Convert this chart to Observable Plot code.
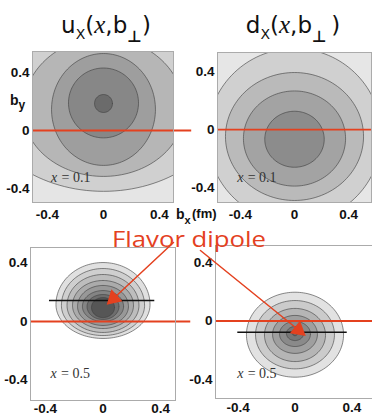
<!DOCTYPE html>
<html><head><meta charset="utf-8">
<script src="https://cdn.jsdelivr.net/npm/d3@7"></script>
<script src="https://cdn.jsdelivr.net/npm/@observablehq/plot@0.6"></script>
<style>
html,body{margin:0;padding:0;background:#fff;}
#fig{position:relative;width:372px;height:415px;overflow:hidden;background:#fff;}
.panel{position:absolute;}
.panel svg{overflow:visible;}
#overlay{position:absolute;left:0;top:0;pointer-events:none;}
</style></head><body><div id="fig"></div>
<script>
// ---------- data ----------
const tickValues = [-0.4, 0, 0.4];
const panelTitles = ["u", "d"];
const momentumLabels = ["x = 0.1", "x = 0.1", "x = 0.5", "x = 0.5"];

// top-left: u, x = 0.1  (contours outer -> inner)
const tlCy  = [0.25, 0.14, 0.145, 0.19, 0.186];
const tlRx  = [0.90, 0.575, 0.371, 0.25, 0.064];
const tlRyT = [0.67, 0.50, 0.386, 0.241, 0.062];
const tlRyB = [0.67, 0.457, 0.386, 0.241, 0.062];
const tlFill = ["#d0d0d0", "#b6b6b6", "#9e9e9e", "#878787", "#6b6b6b"];
const tlBack = "#e5e5e5";

// top-right: d, x = 0.1
const trCy  = [-0.041, -0.048, -0.062, -0.067];
const trRx  = [0.644, 0.511, 0.378, 0.22];
const trRyT = [0.60, 0.441, 0.328, 0.193];
const trRyB = [0.60, 0.441, 0.328, 0.193];
const trFill = ["#d0d0d0", "#bababa", "#a3a3a3", "#8c8c8c"];
const trBack = "#e6e6e6";

// bottom-left: u, x = 0.5
const blCy  = [0.116, 0.110, 0.110, 0.110, 0.103, 0.103, 0.103, 0.096];
const blRx  = [0.327, 0.289, 0.250, 0.212, 0.177, 0.143, 0.111, 0.080];
const blRyT = [0.288, 0.253, 0.212, 0.171, 0.144, 0.109, 0.082, 0.068];
const blRyB = [0.232, 0.206, 0.185, 0.158, 0.130, 0.103, 0.089, 0.069];
const blFill = ["#e0e0e0", "#cfcfcf", "#bdbdbd", "#ababab", "#989898", "#848484", "#6e6e6e", "#565656"];

// bottom-right: d, x = 0.5
const brCy  = [-0.094, -0.094, -0.096, -0.092, -0.089, -0.086, -0.079];
const brRx  = [0.342, 0.278, 0.215, 0.158, 0.109, 0.060, 0.021];
const brRyT = [0.291, 0.234, 0.182, 0.130, 0.086, 0.048, 0.021];
const brRyB = [0.291, 0.234, 0.182, 0.130, 0.086, 0.048, 0.021];
const brFill = ["#e2e2e2", "#cbcbcb", "#b5b5b5", "#9f9f9f", "#8a8a8a", "#767676", "#6a6a6a"];

// flavor-dipole markers (centre of distribution)
const blDipoleY = 0.144, blDipoleX = [-0.372, 0.36];
const brDipoleY = -0.077, brDipoleX = [-0.403, 0.368];
// arrows from the "Flavor dipole" label
const blArrow = {x1: 0.49, y1: 0.541, x2: 0.073, y2: 0.158};
const brArrow = {x1: -0.666, y1: 0.483, x2: 0.025, y2: -0.062};
// label positions (data units of each panel)
const tlLabelPos = [-0.374, -0.324];
const trLabelPos = [-0.424, -0.329];
const blLabelPos = [-0.365, -0.354];
const brLabelPos = [-0.407, -0.357];

// ---------- drawing ----------
const RED = "#e4411f";
const fig = document.getElementById("fig");

function ringPoints(cy, rx, ryT, ryB) {
  const pts = [];
  const n = 140;
  for (let i = 0; i < n; i++) {
    const t = 2 * Math.PI * i / n, s = Math.sin(t);
    pts.push({x: rx * Math.cos(t), y: cy + (s > 0 ? ryT : ryB) * s});
  }
  return pts;
}
function ringMarks(cy, rx, ryT, ryB, fills) {
  return cy.map((c, i) => Plot.line(ringPoints(c, rx[i], ryT[i], ryB[i]), {
    x: "x", y: "y", curve: "linear-closed", fill: fills[i],
    stroke: "#3c3c3c", strokeWidth: 0.6, clip: true
  }));
}
function labelMarks(pos, label) {
  const rest = label.replace(/^x/, "");
  return [
    Plot.text([pos], {x: d => d[0], y: d => d[1], text: () => "x", textAnchor: "start",
      fontFamily: "Liberation Serif", fontStyle: "italic", fontWeight: "normal", fontSize: 14, fill: "#333"}),
    Plot.text([pos], {x: d => d[0], y: d => d[1], text: () => rest, textAnchor: "start", dx: 7,
      fontFamily: "Liberation Serif", fontWeight: "normal", fontSize: 14, fill: "#333"})
  ];
}
function panel(cfg, marks) {
  const p = Plot.plot({
    width: cfg.w, height: cfg.h,
    marginLeft: cfg.mL, marginRight: cfg.mR, marginTop: cfg.mT, marginBottom: cfg.mB,
    x: {domain: cfg.xd, ticks: tickValues, tickSize: 0, tickPadding: cfg.xPad, tickFormat: d => String(d), label: null},
    y: {domain: cfg.yd, ticks: tickValues, tickSize: 0, tickPadding: 3, tickFormat: d => String(d), label: null},
    style: {background: "transparent", fontFamily: "Liberation Sans", fontSize: "13.5px", fontWeight: "bold", color: "#111", overflow: "visible"},
    marks
  });
  const div = document.createElement("div");
  div.className = "panel";
  div.style.left = cfg.left + "px";
  div.style.top = cfg.top + "px";
  div.appendChild(p);
  fig.appendChild(div);
}
function arrowMarks(a, rot) {
  return [
    Plot.arrow([a], {x1: "x1", y1: "y1", x2: "x2", y2: "y2", stroke: RED, strokeWidth: 1.5, headLength: 0}),
    Plot.dot([a], {x: "x2", y: "y2", symbol: "triangle", r: 6, fill: RED, stroke: "none", rotate: rot})
  ];
}

// top-left
panel({left: 0, top: 40, w: 200, h: 190, mL: 32, mR: 27, mT: 11, mB: 28, xPad: 7,
       xd: [-0.507, 0.5], yd: [-0.497, 0.545]}, [
  Plot.frame({fill: tlBack, stroke: null}),
  ...ringMarks(tlCy, tlRx, tlRyT, tlRyB, tlFill),
  ...labelMarks(tlLabelPos, momentumLabels[0]),
  Plot.ruleY([0], {x1: -0.507, x2: 0.63, stroke: RED, strokeWidth: 1.8}),
  Plot.frame({stroke: "#ababab"})
]);
// top-right
panel({left: 186, top: 40, w: 186, h: 190, mL: 31, mR: 1, mT: 12, mB: 28, xPad: 7,
       xd: [-0.57, 0.57], yd: [-0.503, 0.531]}, [
  Plot.frame({fill: trBack, stroke: null}),
  ...ringMarks(trCy, trRx, trRyT, trRyB, trFill),
  ...labelMarks(trLabelPos, momentumLabels[1]),
  Plot.ruleY([0], {x1: -0.57, x2: 0.57, stroke: RED, strokeWidth: 1.8}),
  Plot.frame({stroke: "#ababab"})
]);
// bottom-left
panel({left: 0, top: 232, w: 200, h: 183, mL: 30, mR: 25, mT: 15, mB: 15, xPad: 3,
       xd: [-0.504, 0.504], yd: [-0.541, 0.507]}, [
  Plot.frame({fill: "#ffffff", stroke: null}),
  ...ringMarks(blCy, blRx, blRyT, blRyB, blFill),
  ...labelMarks(blLabelPos, momentumLabels[2]),
  Plot.ruleY([0], {x1: -0.504, x2: 0.61, stroke: RED, strokeWidth: 1.8}),
  Plot.ruleY([blDipoleY], {x1: blDipoleX[0], x2: blDipoleX[1], stroke: "#111", strokeWidth: 1.6}),
  Plot.frame({stroke: "#ababab"}),
  ...arrowMarks(blArrow, -133)
]);
// bottom-right
panel({left: 186, top: 232, w: 186, h: 183, mL: 29, mR: 0, mT: 13, mB: 17, xPad: 4,
       xd: [-0.56, 0.546], yd: [-0.531, 0.517]}, [
  Plot.frame({fill: "#ffffff", stroke: null}),
  ...ringMarks(brCy, brRx, brRyT, brRyB, brFill),
  ...labelMarks(brLabelPos, momentumLabels[3]),
  Plot.ruleY([0], {x1: -0.56, x2: 0.546, stroke: RED, strokeWidth: 1.8}),
  Plot.ruleY([brDipoleY], {x1: brDipoleX[0], x2: brDipoleX[1], stroke: "#111", strokeWidth: 1.6}),
  Plot.frame({stroke: "#ababab"}),
  ...arrowMarks(brArrow, 129)
]);

// ---------- overlay texts ----------
const svg = d3.select("#fig").append("svg").attr("id", "overlay").attr("width", 372).attr("height", 415);
function addTitle(cx, letter, spaced) {
  const t = svg.append("text").attr("x", cx).attr("y", 33).attr("text-anchor", "middle")
    .style("font-family", "DejaVu Sans").style("font-size", "23px").attr("fill", "#111");
  t.append("tspan").text(letter);
  t.append("tspan").attr("dy", 6).style("font-size", "14px").text("X");
  t.append("tspan").attr("dy", -6).text("(");
  t.append("tspan").style("font-family", "Liberation Serif").style("font-style", "italic").style("font-size", "25px").text("x");
  t.append("tspan").text(",b");
  t.append("tspan").attr("dy", 9).style("font-size", "16px").style("font-weight", "bold").text("\u22A5");
  t.append("tspan").attr("dy", -9).text(spaced ? "\u2009)" : ")");
}
addTitle(106, panelTitles[0], false);
addTitle(293, panelTitles[1], true);

const by = svg.append("text").attr("x", 10).attr("y", 105)
  .style("font-family", "Liberation Sans").style("font-weight", "bold").style("font-size", "14px").attr("fill", "#111");
by.append("tspan").text("b");
by.append("tspan").attr("dy", 4).style("font-size", "12px").text("y");

const bx = svg.append("text").attr("x", 176).attr("y", 219)
  .style("font-family", "Liberation Sans").style("font-weight", "bold").style("font-size", "14px").attr("fill", "#111");
bx.append("tspan").text("b");
bx.append("tspan").attr("dy", 5).style("font-size", "11px").text("x");
svg.append("text").attr("x", 192).attr("y", 218)
  .style("font-family", "Liberation Sans").style("font-weight", "bold").style("font-size", "13px").attr("fill", "#111")
  .text("(fm)");

svg.append("text").attr("x", 112).attr("y", 247)
  .style("font-family", "Open Sans").style("font-size", "22px").attr("fill", RED)
  .attr("textLength", 154).attr("lengthAdjust", "spacingAndGlyphs")
  .text("Flavor dipole");
</script></body></html>
